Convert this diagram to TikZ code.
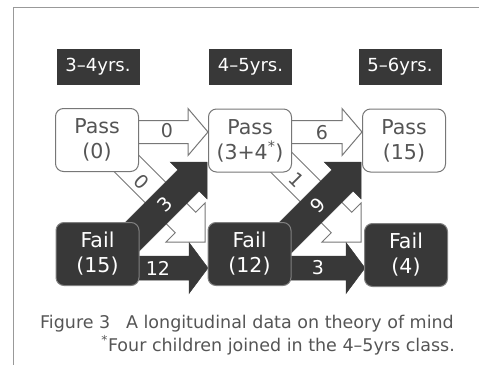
\documentclass[tikz,border=0pt]{standalone}
\usepackage{fontspec}
\setmainfont{DejaVu Sans}
\usetikzlibrary{calc,backgrounds}
\definecolor{dark}{HTML}{383838}
\definecolor{txtgray}{HTML}{555555}
\definecolor{edgegray}{HTML}{777777}
\definecolor{framegray}{HTML}{999999}
% #1 start, #2 tip, #3 shaft half width, #4 head half width, #5 head length, #6 style
\newcommand\blockarr[6]{%
  \coordinate (ba-b) at ($(#2)!#5!(#1)$);
  \draw[#6] ($(#1)!#3!90:(#2)$) -- ($(ba-b)!#3!90:(#2)$) -- ($(ba-b)!#4!90:(#2)$)
    -- (#2) -- ($(ba-b)!#4!-90:(#2)$) -- ($(ba-b)!#3!-90:(#2)$)
    -- ($(#1)!#3!-90:(#2)$) -- cycle;
}
\begin{document}
\begin{tikzpicture}[x=1pt,y=-1pt,
  passbox/.style={draw=edgegray, line width=1pt, fill=white, rounded corners=8pt,
    minimum width=83pt, minimum height=63pt, align=center, text=txtgray,
    font=\fontsize{20.5}{25}\selectfont, inner sep=0pt},
  failbox/.style={passbox, fill=dark, draw=gray, text=white},
  hdr/.style={fill=dark, text=white, minimum width=83pt, minimum height=36pt,
    inner sep=0pt, font=\fontsize{18}{20}\selectfont},
  whitearr/.style={fill=white, draw=edgegray, line width=1pt, line join=miter},
  darkarr/.style={fill=dark, draw=dark, line width=0.5pt, line join=miter},
  numg/.style={text=txtgray, font=\fontsize{19}{19}\selectfont, inner sep=0pt},
  numw/.style={text=white, font=\fontsize{19}{19}\selectfont, inner sep=0pt},
  captext/.style={text=txtgray, font=\fontsize{17.5}{23}\selectfont, inner sep=0pt, anchor=base east}
]
\useasboundingbox (0,0) rectangle (479,375);
\draw[framegray, line width=0.8pt] (479,7) -- (13,7) -- (13,365);

% headers
\node[hdr] (h1) at (98,67) {3–4yrs.};
\node[hdr] (h2) at (250.5,67) {4–5yrs.};
\node[hdr] (h3) at (400,67) {5–6yrs.};

% boxes
\node[passbox] (p1) at (97,140) {Pass\\(0)};
\node[passbox] (p2) at (250,140.5) {Pass\\(3+4\textsuperscript{*})};
\node[passbox] (p3) at (404,140.5) {Pass\\(15)};
\node[failbox] (f1) at (97.5,254) {Fail\\(15)};
\node[failbox] (f2) at (249.5,254) {Fail\\(12)};
\node[failbox] (f3) at (406,255) {Fail\\(4)};

% arrow end points
\coordinate (a1s) at (97,132);  \coordinate (a1t) at (208,132);
\coordinate (a2s) at (250,132); \coordinate (a2t) at (362,132);
\coordinate (b1s) at (97,268);  \coordinate (b1t) at (208,268);
\coordinate (b2s) at (250,268); \coordinate (b2t) at (365,268);
\coordinate (c1s) at (125,244); \coordinate (c1t) at (207,162);
\coordinate (c2s) at (279,244); \coordinate (c2t) at (361,162);
\coordinate (d1s) at (110,147); \coordinate (d1t) at (205,242);
\coordinate (d2s) at (266,147); \coordinate (d2t) at (361,242);

\begin{pgfonlayer}{background}
  \blockarr{d1s}{d1t}{14.5pt}{27.6pt}{27.6pt}{whitearr}
  \blockarr{d2s}{d2t}{14.5pt}{27.6pt}{27.6pt}{whitearr}
  \blockarr{c1s}{c1t}{15pt}{26pt}{26pt}{darkarr}
  \blockarr{c2s}{c2t}{15pt}{26pt}{26pt}{darkarr}
  \blockarr{a1s}{a1t}{11.5pt}{23.5pt}{20pt}{whitearr}
  \blockarr{a2s}{a2t}{11.5pt}{23.5pt}{20pt}{whitearr}
  \blockarr{b1s}{b1t}{12pt}{25.5pt}{19pt}{darkarr}
  \blockarr{b2s}{b2t}{12pt}{25.5pt}{19pt}{darkarr}
\end{pgfonlayer}

% arrow labels
\node[numg] (l1) at (167,131) {0};
\node[numg] (l2) at (322,133) {6};
\node[numw] (l3) at (158,268) {12};
\node[numw] (l4) at (318,268) {3};
\node[numw, rotate=45] (l5) at (165,204) {3};
\node[numw, rotate=45] (l6) at (318,205) {9};
\node[numg, rotate=-45] (l7) at (142,182) {0};
\node[numg, rotate=-45] (l8) at (297,180) {1};

% caption
\node[captext] (cap1) at (454,328) {Figure 3\hspace{0.9em}A longitudinal data on theory of mind};
\node[captext] (cap2) at (455,351) {\textsuperscript{*}Four children joined in the 4–5yrs class.};
\end{tikzpicture}
\end{document}
